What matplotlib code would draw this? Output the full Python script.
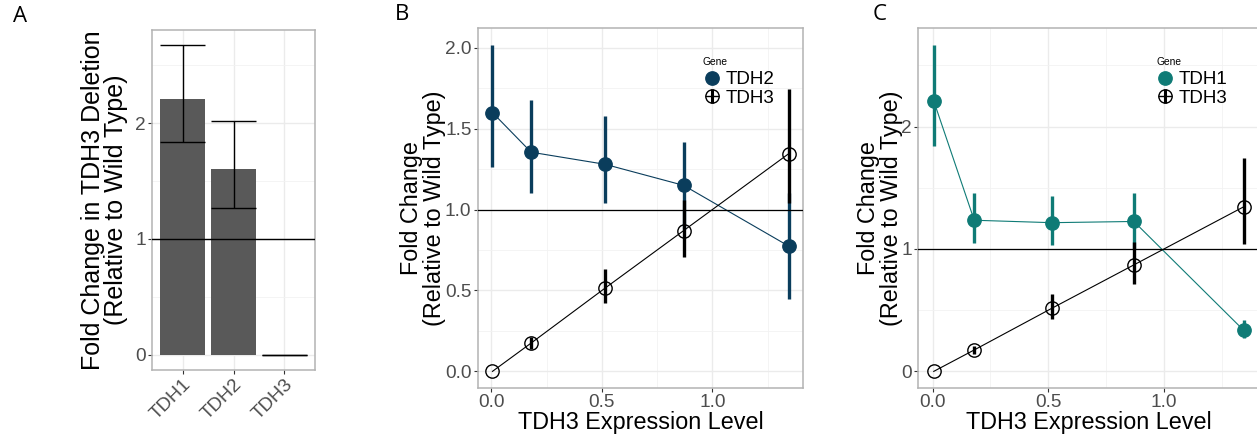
import numpy as np
import matplotlib.pyplot as plt
from matplotlib.lines import Line2D
from matplotlib.legend_handler import HandlerTuple

plt.rcParams.update({
    "font.family": ["Liberation Sans", "DejaVu Sans"],
    "axes.edgecolor": "#b3b3b3", "axes.linewidth": 1.1,
    "xtick.color": "#333333", "ytick.color": "#333333",
    "xtick.labelcolor": "#4d4d4d", "ytick.labelcolor": "#4d4d4d",
    "xtick.labelsize": 13.7, "ytick.labelsize": 13.7,
    "xtick.major.size": 3, "ytick.major.size": 3,
    "xtick.major.width": 0.8, "ytick.major.width": 0.8,
    "xtick.major.pad": 1.5, "ytick.major.pad": 1.5,
})

# A: fold change in the TDH3 deletion
genes = ["TDH1", "TDH2", "TDH3"]
deletion_fc = [2.21, 1.60, 0.0]
deletion_lo = [1.84, 1.265, 0.0]
deletion_hi = [2.67, 2.02, 0.0]

# B, C: fold change against TDH3 expression level
tdh3_level = [0.005, 0.18, 0.515, 0.87, 1.345]
tdh3_fc = [0.0, 0.175, 0.515, 0.87, 1.345]
tdh3_lo = [0.0, 0.14, 0.425, 0.71, 1.04]
tdh3_hi = [0.0, 0.21, 0.63, 1.06, 1.745]
tdh2_fc = [1.60, 1.355, 1.28, 1.15, 0.775]
tdh2_lo = [1.265, 1.10, 1.04, 0.88, 0.445]
tdh2_hi = [2.02, 1.675, 1.58, 1.42, 1.10]
tdh1_fc = [2.21, 1.235, 1.215, 1.225, 0.335]
tdh1_lo = [1.84, 1.05, 1.03, 1.00, 0.27]
tdh1_hi = [2.67, 1.46, 1.43, 1.455, 0.42]

NAVY, TEAL, BAR = "#0a3d5c", "#0f7b76", "#595959"
W, H = 1257, 436
fig = plt.figure(figsize=(W/100, H/100), dpi=100)


def box(l, r, t, b):
    return fig.add_axes([l/W, 1-b/H, (r-l)/W, (b-t)/H])


def grid(ax):
    ax.grid(which="major", color="#ebebeb", lw=1.0, zorder=0)
    ax.grid(which="minor", color="#f2f2f2", lw=0.6, zorder=0)
    ax.tick_params(which="minor", length=0)
    ax.set_axisbelow(True)


# panel A
axa = box(152, 315, 30, 370)
xa = np.arange(1, len(genes)+1)
axa.bar(xa, deletion_fc, 0.9, color=BAR, zorder=2)
axa.vlines(xa, deletion_lo, deletion_hi, color="black", lw=1, zorder=3)
axa.hlines(deletion_lo, xa-0.45, xa+0.45, color="black", lw=1, zorder=3)
axa.hlines(deletion_hi, xa-0.45, xa+0.45, color="black", lw=1, zorder=3)
axa.axhline(1, color="black", lw=1, zorder=3)
axa.set_xlim(0.4, 3.6)
axa.set_ylim(-0.1335, 2.8035)
axa.set_xticks(xa, genes, rotation=45, ha="right", rotation_mode="anchor")
axa.set_yticks([0, 1, 2])
axa.set_yticks([0.5, 1.5, 2.5], minor=True)
axa.set_ylabel("Fold Change in TDH3 Deletion\n(Relative to Wild Type)", fontsize=18,
               labelpad=5, linespacing=0.97)
grid(axa)


def curve_panel(ax, fc, lo, hi, col, name, ylim, yt, ytm, ylabels):
    ax.plot(tdh3_level, fc, color=col, lw=0.8, zorder=2)
    ax.plot(tdh3_level, tdh3_fc, color="black", lw=0.8, zorder=2)
    ax.vlines(tdh3_level, lo, hi, color=col, lw=2.4, zorder=3)
    ax.vlines(tdh3_level, tdh3_lo, tdh3_hi, color="black", lw=2.4, zorder=3)
    ax.plot(tdh3_level, fc, "o", color=col, ms=9.6, zorder=4)
    ax.plot(tdh3_level, tdh3_fc, "o", mfc="none", mec="black", mew=1.0, ms=9.6, zorder=4)
    ax.axhline(1, color="black", lw=0.9, zorder=3)
    ax.set_xlim(-0.0618, 1.4118)
    ax.set_ylim(*ylim)
    ax.set_xticks([0, 0.5, 1.0], ["0.0", "0.5", "1.0"])
    ax.set_xticks([0.25, 0.75, 1.25], minor=True)
    ax.set_yticks(yt, ylabels)
    ax.set_yticks(ytm, minor=True)
    ax.set_xlabel("TDH3 Expression Level", fontsize=16.8, labelpad=0)
    ax.set_ylabel("Fold Change\n(Relative to Wild Type)", fontsize=16.8, labelpad=-1,
                  linespacing=1.0)
    grid(ax)
    h1 = Line2D([], [], ls="none", marker="o", color=col, ms=9.6)
    h2 = (Line2D([], [], ls="none", marker="o", mfc="none", mec="black", mew=1.0, ms=9.6),
          Line2D([], [], ls="none", marker="|", color="black", mew=2.2, ms=9.6),
          Line2D([], [], ls="none", marker="_", color="black", mew=1.0, ms=9.6))
    return [h1, h2], [name, "TDH3"]


# panel B
axb = box(477.7, 803.3, 28.3, 387.7)
hb, lb = curve_panel(axb, tdh2_fc, tdh2_lo, tdh2_hi, NAVY, "TDH2", (-0.101, 2.121),
                     [0, 0.5, 1.0, 1.5, 2.0], [0.25, 0.75, 1.25, 1.75],
                     ["0.0", "0.5", "1.0", "1.5", "2.0"])

# panel C
axc = box(918.3, 1259.2, 28.3, 387.7)
axc.spines["right"].set_visible(False)
hc, lc = curve_panel(axc, tdh1_fc, tdh1_lo, tdh1_hi, TEAL, "TDH1", (-0.1335, 2.8035),
                     [0, 1, 2], [0.5, 1.5, 2.5], ["0", "1", "2"])

for ax, hs, ls, lx, gx in [(axb, hb, lb, 702.6, 703), (axc, hc, lc, 1155.9, 1156.7)]:
    ax.legend(hs, ls, loc="center left", bbox_to_anchor=(lx/W, 1-89/H),
              bbox_transform=fig.transFigure, frameon=False, fontsize=13.5,
              borderpad=0, labelspacing=0.06, handlelength=1.0,
              handletextpad=0.22, borderaxespad=0,
              handler_map={tuple: HandlerTuple(ndivide=1, pad=0)})
    fig.text(gx/W, 1-62/H, "Gene", fontsize=7.4, ha="left", va="center")

for x, y, s in [(20, 17, "A"), (402, 15, "B"), (880, 15, "C")]:
    fig.text(x/W, 1-y/H, s, fontsize=16, ha="center", va="center", family="Open Sans")

fig.savefig("out.png", dpi=100)
